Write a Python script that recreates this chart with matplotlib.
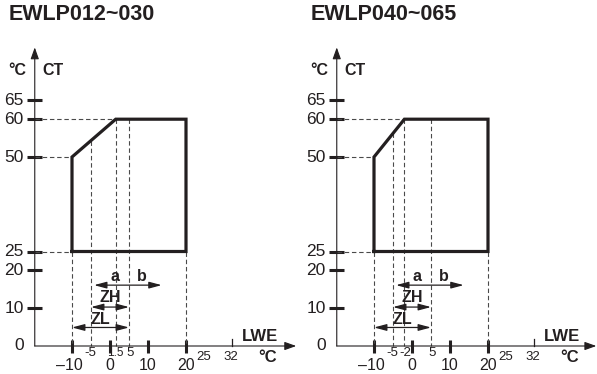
import matplotlib
matplotlib.use("Agg")
import matplotlib.pyplot as plt
from matplotlib import font_manager

# --- data ---
titles = ["EWLP012~030", "EWLP040~065"]
corner_x = [1.5, -2]                 # where the slope meets CT = 60
small_ticks = [[-5, 1.5, 5], [-5, -2, 5]]
small_labels = [["-5", "1.5", "5"], ["-5", "-2", "5"]]

main_ticks = [-10, 0, 10, 20]
main_labels = ["\u201310", "0", "10", "20"]
far_ticks = [25, 32]
far_labels = ["25", "32"]

y_ticks = [65, 60, 50, 25, 20, 10]
y_labels = ["65", "60", "50", "25", "20", "10"]

lwe_min, lwe_max = -10, 20
ct_min, ct_low, ct_max = 25, 50, 60

ab_range = [-4.2, 13.6]
ab_mid = [1.3, 8.3]
zh_range = [-5, 5]
zl_range = [-10, 5]

# pixel geometry of each panel (origin of the LWE axis in pixels)
px_per_unit = 3.8
py_per_unit = 3.78
x0_px = [110, 412]
y0_px = 346
panel_px = [(0, 300), (300, 597)]
W, H = 597, 374

names = {f.name for f in font_manager.fontManager.ttflist}
narrow = "Liberation Sans Narrow" if "Liberation Sans Narrow" in names else "Liberation Sans"
plt.rcParams["font.family"] = ["Liberation Sans", "DejaVu Sans"]

ink = "#231f20"
guide = "#4a4a4a"
dash = (0, (4, 2.5))

# small nudges so the crowded little labels sit as in the original
nudge = {"-5": -0.3, "1.5": 0.0, "-2": 0.3, "5": 0.3}

fig = plt.figure(figsize=(W / 100, H / 100), dpi=100)

for i in range(2):
    a, b = panel_px[i]
    ax = fig.add_axes([a / W, 0, (b - a) / W, 1])
    ax.set_xlim((a - x0_px[i]) / px_per_unit, (b - x0_px[i]) / px_per_unit)
    ax.set_ylim((y0_px - H) / py_per_unit, y0_px / py_per_unit)
    ax.axis("off")

    yax = -19.8
    cx = corner_x[i]

    # axes with arrows
    ax.annotate("", xy=(49.0 if i == 0 else 48.5, 0), xytext=(yax, 0),
                arrowprops=dict(arrowstyle="-|>,head_length=0.7,head_width=0.25",
                                color=ink, lw=0.8, shrinkA=0, shrinkB=0,
                                mutation_scale=10))
    ax.annotate("", xy=(yax, 79), xytext=(yax, 0),
                arrowprops=dict(arrowstyle="-|>,head_length=0.7,head_width=0.25",
                                color=ink, lw=0.8, shrinkA=0, shrinkB=0,
                                mutation_scale=10))

    # y ticks
    for v, lab in zip(y_ticks, y_labels):
        ax.plot([yax - 2.0, yax + 2.0], [v, v], color=ink, lw=2.2, solid_capstyle="butt")
        ax.text(yax - 2.9, v, lab, ha="right", va="center", fontsize=12.5,
                family=narrow, color=ink)
    ax.text(yax - 2.9, 0, "0", ha="right", va="center", fontsize=12.5,
            family=narrow, color=ink)

    # x ticks
    for v, lab in zip(main_ticks, main_labels):
        ax.plot([v, v], [1.6, -1.9], color=ink, lw=2.2, solid_capstyle="butt")
        ax.text(v - (0.6 if v < 0 else 0), -5.1, lab, ha="center", va="center",
                fontsize=11.5, family=narrow, color=ink)
    for v, lab in zip(small_ticks[i], small_labels[i]):
        fs = 8.5 if lab == "1.5" else 9.5
        ax.text(v + nudge[lab], -1.8, lab, ha="center", va="center", fontsize=fs,
                family=narrow, color=ink)
    ax.text(24.7, -2.8, far_labels[0], ha="center", va="center", fontsize=9.5,
            family=narrow, color=ink)
    ax.text(31.8, -2.8, far_labels[1], ha="center", va="center", fontsize=9.5,
            family=narrow, color=ink)
    ax.plot([far_ticks[1], far_ticks[1]], [0, 1.8], color=ink, lw=0.9)

    # dashed guide lines
    slope_y = ct_low + (ct_max - ct_low) * (-5 - lwe_min) / (cx - lwe_min)
    ax.plot([yax, cx], [ct_max, ct_max], color=guide, lw=0.8, ls=dash)
    ax.plot([yax, lwe_min], [ct_low, ct_low], color=guide, lw=0.8, ls=dash)
    ax.plot([yax, lwe_min], [ct_min, ct_min], color=guide, lw=0.8, ls=dash)
    ax.plot([lwe_min, lwe_min], [ct_min, 0], color=guide, lw=0.8, ls=dash)
    ax.plot([lwe_max, lwe_max], [ct_min, 0], color=guide, lw=0.8, ls=dash)
    ax.plot([-5, -5], [slope_y, 0], color=guide, lw=0.8, ls=dash)
    ax.plot([cx, cx], [ct_max, 0], color=guide, lw=0.8, ls=dash)
    ax.plot([5, 5], [ct_max, 0], color=guide, lw=0.8, ls=dash)

    # operating envelope
    env_x = [lwe_min, lwe_min, cx, lwe_max, lwe_max, lwe_min]
    env_y = [ct_min, ct_low, ct_max, ct_max, ct_min, ct_min]
    ax.plot(env_x, env_y, color=ink, lw=2.3, solid_joinstyle="miter")

    # range arrows
    astyle = dict(arrowstyle="<|-|>,head_length=0.75,head_width=0.2", color=ink,
                  lw=0.9, shrinkA=0, shrinkB=0, mutation_scale=10)
    ax.annotate("", xy=(ab_range[1], 16.1), xytext=(ab_range[0], 16.1), arrowprops=astyle)
    ax.annotate("", xy=(zh_range[1], 10.3), xytext=(zh_range[0], 10.3), arrowprops=astyle)
    ax.annotate("", xy=(zl_range[1], 4.9), xytext=(zl_range[0], 4.9), arrowprops=astyle)
    ax.text(ab_mid[0], 18.3, "a", ha="center", va="center", fontsize=11.5,
            fontweight="bold", color=ink)
    ax.text(ab_mid[1], 18.3, "b", ha="center", va="center", fontsize=11.5,
            fontweight="bold", color=ink)
    ax.text(0, 12.7, "ZH", ha="center", va="center", fontsize=11.5,
            fontweight="bold", color=ink)
    ax.text(-2.6, 7.1, "ZL", ha="center", va="center", fontsize=11.5,
            fontweight="bold", color=ink)

    # axis titles
    ax.text(-24.3, 73, "\u00b0C", ha="center", va="center", fontsize=11.5,
            fontweight="bold", color=ink)
    ax.text(-15.1, 73, "CT", ha="center", va="center", fontsize=11.5,
            fontweight="bold", color=ink)
    ax.text(39.4, 2.4, "LWE", ha="center", va="center", fontsize=12,
            fontweight="bold", color=ink)
    ax.text(41.5, -3.0, "\u00b0C", ha="center", va="center", fontsize=12,
            fontweight="bold", color=ink)

    # panel title
    ax.text(-26.8, 87.6, titles[i], ha="left", va="center", fontsize=15.5,
            fontweight="bold", color=ink)

fig.savefig("out.png", dpi=100)
